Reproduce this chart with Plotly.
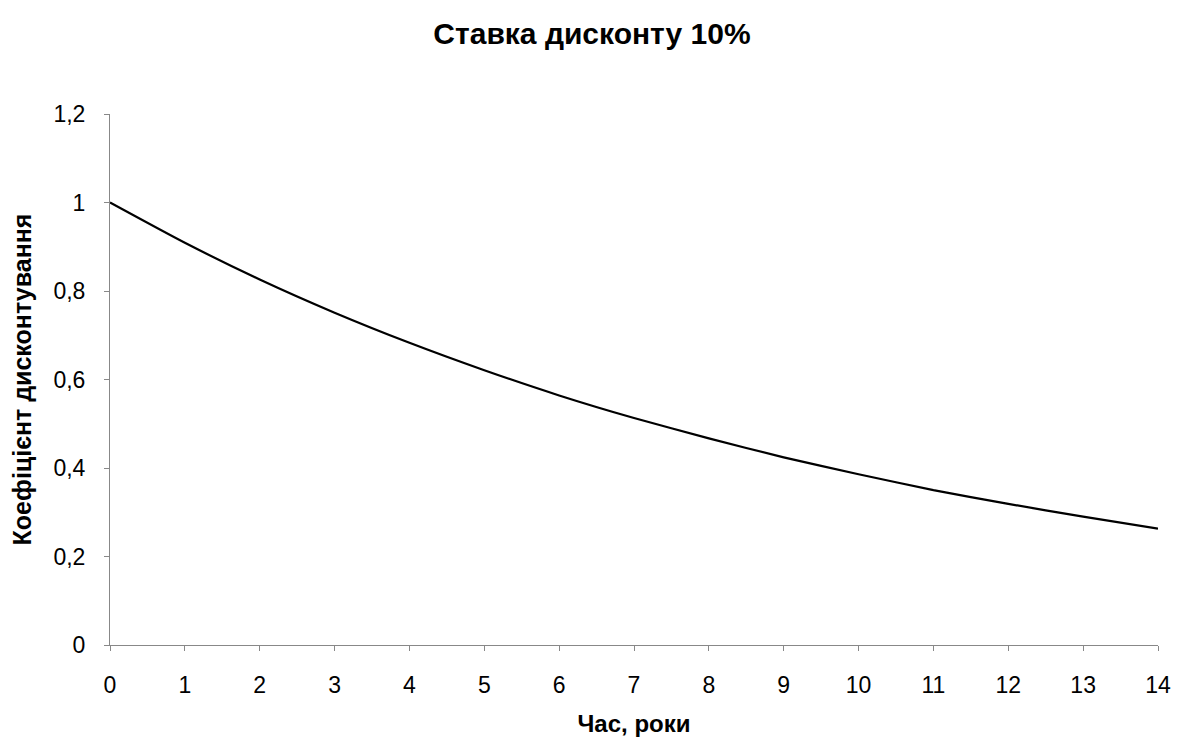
import plotly.graph_objects as go

years = [0, 1, 2, 3, 4, 5, 6, 7, 8, 9, 10, 11, 12, 13, 14]
discount_factor = [1.0, 0.909, 0.826, 0.751, 0.683, 0.621, 0.564, 0.513,
                   0.467, 0.424, 0.386, 0.350, 0.319, 0.290, 0.263]

title_text = "Ставка дисконту 10%"
x_title = "Час, роки"
y_title = "Коефіцієнт дисконтування"

font_family = "Liberation Sans, Arial, sans-serif"

fig = go.Figure()
fig.add_trace(go.Scatter(
    x=years, y=discount_factor, mode="lines",
    line=dict(color="black", width=2.2, shape="spline", smoothing=0.6),
    showlegend=False, hoverinfo="skip",
))

fig.update_layout(
    width=1183, height=744,
    paper_bgcolor="white", plot_bgcolor="white",
    separators=", ",
    margin=dict(l=110, r=18, t=114, b=97),
    title=dict(text=f"<b>{title_text}</b>", x=592 / 1183, xanchor="center",
               y=1 - 33 / 744, yanchor="middle",
               font=dict(family=font_family, size=30, color="black")),
    font=dict(family=font_family, size=23, color="black"),
    xaxis=dict(
        range=[0, 14], tickmode="array", tickvals=years,
        showgrid=False, zeroline=False,
        showline=True, linecolor="#888888", linewidth=1,
        ticks="outside", ticklen=5, tickcolor="#888888",
        tickfont=dict(size=23), ticklabelstandoff=14,
        title=dict(text=f"<b>{x_title}</b>", standoff=18,
                   font=dict(size=24)),
    ),
    yaxis=dict(
        range=[0, 1.2], dtick=0.2, tick0=0,
        showgrid=False, zeroline=False,
        showline=True, linecolor="#888888", linewidth=1,
        ticks="outside", ticklen=5, tickcolor="#888888",
        tickfont=dict(size=23), ticklabelstandoff=14,
        title=dict(text=f"<b>{y_title}</b>", standoff=14,
                   font=dict(size=25)),
    ),
)

fig.write_html("out.html")
